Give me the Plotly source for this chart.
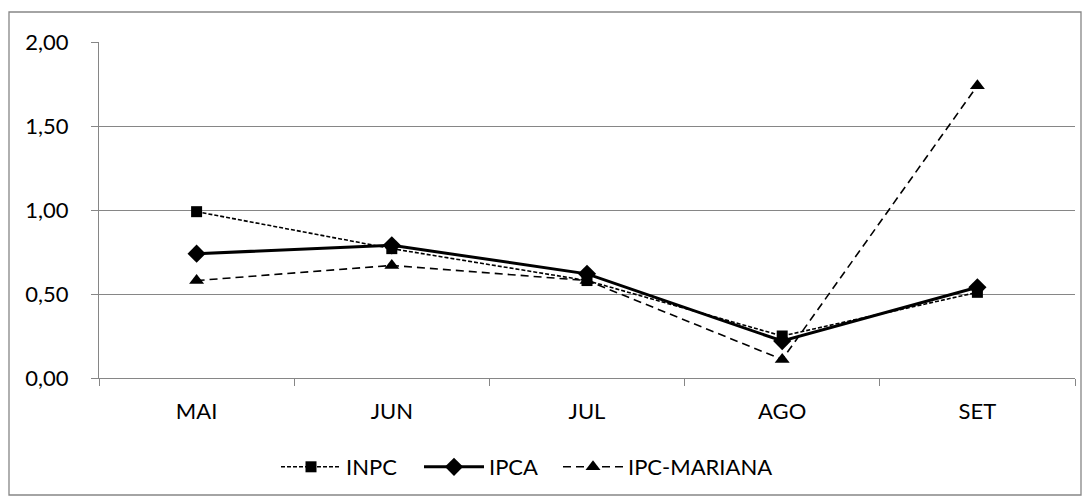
import plotly.graph_objects as go

months = ["MAI", "JUN", "JUL", "AGO", "SET"]
inpc = [0.99, 0.77, 0.58, 0.25, 0.51]
ipca = [0.74, 0.79, 0.62, 0.22, 0.54]
ipc_mariana = [0.58, 0.67, 0.58, 0.11, 1.74]
y_ticks = [0, 0.5, 1.0, 1.5, 2.0]

OFF = 8  # page body margin
W, H = 1091 - 2 * OFF, 503 - OFF - 2
L, R, T, B = 99 - OFF, 1075 - OFF, 42 - OFF, 378 - OFF

fig = go.Figure()
fig.add_trace(go.Scatter(x=months, y=inpc, name="INPC", mode="lines+markers", legend="legend",
                         line=dict(color="black", width=1.6, dash="4px,2px"),
                         marker=dict(symbol="square", size=11, color="black")))
fig.add_trace(go.Scatter(x=months, y=ipca, name="IPCA", mode="lines+markers", legend="legend2",
                         line=dict(color="black", width=3),
                         marker=dict(symbol="diamond", size=14, color="black")))
fig.add_trace(go.Scatter(x=months, y=ipc_mariana, name="IPC-MARIANA", mode="lines+markers", legend="legend3",
                         line=dict(color="black", width=1.6, dash="8px,5px"),
                         marker=dict(symbol="triangle-up", size=13, color="black")))

def px(x):
    return (x - OFF - L) / (R - L)

def py(y):
    return (B - (y - OFF)) / (B - T)

fig.add_shape(type="rect", xref="paper", yref="paper",
              x0=px(9), x1=px(1081), y0=py(495), y1=py(12),
              line=dict(color="#868686", width=1.3), fillcolor="rgba(0,0,0,0)", layer="below")

def leg(x):
    return dict(orientation="h", x=px(x), xanchor="left", y=py(467), yanchor="middle",
                itemwidth=60, font=dict(size=22), bgcolor="rgba(0,0,0,0)")

fig.update_layout(
    width=W, height=H,
    margin=dict(l=L, r=W - R, t=T, b=H - B, pad=0),
    paper_bgcolor="white", plot_bgcolor="white",
    font=dict(family="Lato, Open Sans, sans-serif", size=22, color="black"),
    separators=",.",
    showlegend=True,
    legend=leg(276),
    legend2=leg(419),
    legend3=leg(558),
    xaxis=dict(type="category", showgrid=False, showline=True, linecolor="#868686", linewidth=1.3,
               ticks="outside", tickson="boundaries", ticklen=7, tickcolor="#868686", tickwidth=1.3,
               ticklabelstandoff=13, range=[-0.5, 4.5], fixedrange=True),
    yaxis=dict(range=[0, 2], tickvals=y_ticks, tickformat=".2f", showgrid=True,
               gridcolor="#868686", gridwidth=1.3, showline=True, linecolor="#868686", linewidth=1.3,
               ticks="outside", ticklen=7, tickcolor="#868686", tickwidth=1.3,
               ticklabelstandoff=18, zeroline=False, fixedrange=True),
)

fig.write_html("out.html")
